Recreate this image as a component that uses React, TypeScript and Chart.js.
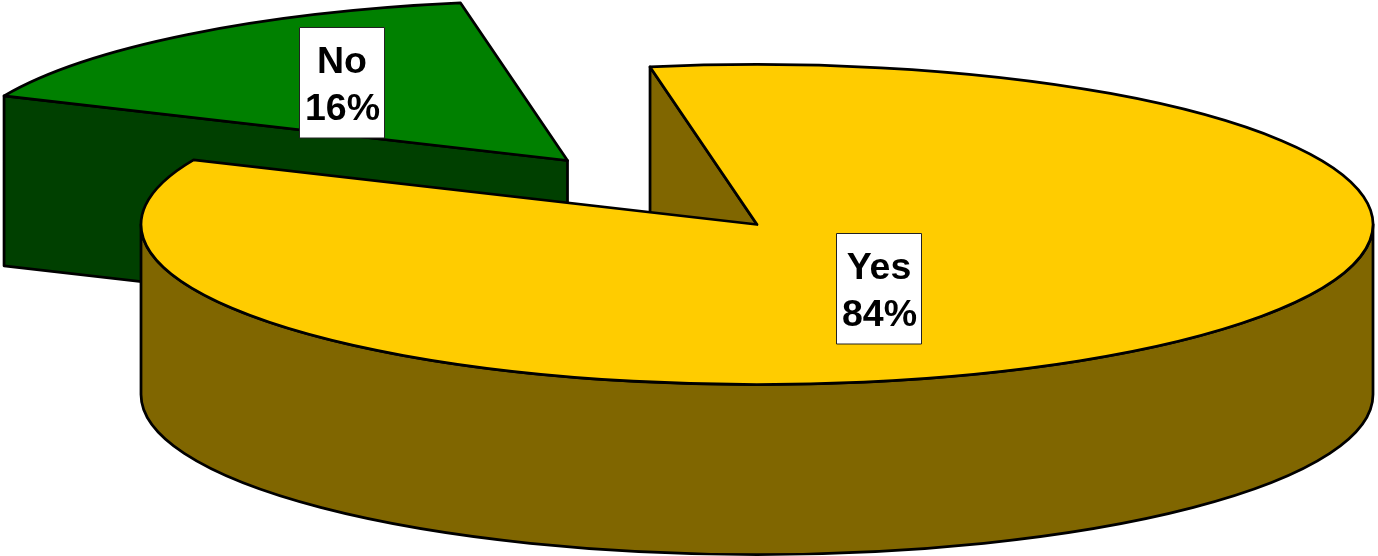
import { useEffect, useRef } from "react";
import { Chart, registerables } from "chart.js";

Chart.register(...registerables);

const categories = ["Yes", "No"];
const values = [84.4, 15.6];
const topColors = ["#FFCC00", "#008000"];
const wallColors = ["#806600", "#004000"];
// explode shift of each slice from the pie centre (px), and its label box
const sliceShiftX = [0, -189.5];
const sliceShiftY = [0, -64];
const labelBoxX = [836.5, 299.5];
const labelBoxY = [233.5, 27.5];

const CENTER_Y = 224.5;
const RADIUS = 616;
const TILT = 160 / 616;
const DEPTH = 170;
const LINE = 2.75;
const BOX_W = 85;
const BOX_H = 110.5;

const pie3d = {
  id: "pie3d",
  beforeDatasetsDraw(chart: any) {
    const ctx: CanvasRenderingContext2D = chart.ctx;
    const arcs = chart.getDatasetMeta(0).data;
    const order = arcs.map((_: any, i: number) => i).reverse();
    ctx.save();
    ctx.lineWidth = LINE;
    ctx.strokeStyle = "#000";
    ctx.lineJoin = "round";
    for (const i of order) {
      const arc = arcs[i];
      const { startAngle: a0, endAngle: a1, outerRadius: r } = arc;
      const cx = arc.x + sliceShiftX[i];
      const cy = CENTER_Y + sliceShiftY[i];
      const ry = r * TILT;
      const rimX = cx + r * Math.cos(a0);
      const rimY = cy + ry * Math.sin(a0);

      ctx.fillStyle = wallColors[i];
      // wall along the slice's starting edge
      ctx.beginPath();
      ctx.moveTo(rimX, rimY);
      ctx.lineTo(cx, cy);
      ctx.lineTo(cx, cy + DEPTH);
      ctx.lineTo(rimX, rimY + DEPTH);
      ctx.closePath();
      ctx.fill();
      ctx.stroke();

      // outer wall, front half of the rim only
      const from = Math.max(a0, 0);
      const to = Math.min(a1, Math.PI);
      if (from < to) {
        ctx.beginPath();
        ctx.ellipse(cx, cy, r, ry, 0, from, to);
        ctx.ellipse(cx, cy + DEPTH, r, ry, 0, to, from, true);
        ctx.closePath();
        ctx.fill();
        ctx.stroke();
      }

      // top face: the library's own arc, flattened
      ctx.save();
      ctx.translate(cx, cy);
      ctx.scale(1, TILT);
      ctx.translate(-arc.x, -arc.y);
      arc.draw(ctx);
      ctx.restore();
      ctx.beginPath();
      ctx.moveTo(cx, cy);
      ctx.ellipse(cx, cy, r, ry, 0, a0, a1);
      ctx.closePath();
      ctx.stroke();
    }

    // labels
    const total = values.reduce((s, v) => s + v, 0);
    ctx.font = 'bold 37.5px "Liberation Sans", Arial, sans-serif';
    ctx.textAlign = "center";
    ctx.textBaseline = "alphabetic";
    categories.forEach((name, i) => {
      const x = labelBoxX[i];
      const y = labelBoxY[i];
      ctx.fillStyle = "#fff";
      ctx.fillRect(x, y, BOX_W, BOX_H);
      ctx.lineWidth = 1;
      ctx.strokeStyle = "#222";
      ctx.strokeRect(x, y, BOX_W, BOX_H);
      ctx.fillStyle = "#000";
      ctx.fillText(name, x + BOX_W / 2, y + 45);
      ctx.fillText(`${Math.round((values[i] / total) * 100)}%`, x + BOX_W / 2 + 0.5, y + 92);
    });
    ctx.restore();
    return false;
  },
};

export default function App() {
  const ref = useRef<HTMLCanvasElement>(null);
  useEffect(() => {
    document.body.style.margin = "0";
    const chart = new Chart(ref.current!, {
      type: "pie",
      data: {
        labels: categories,
        datasets: [
          {
            data: values,
            backgroundColor: topColors,
            borderWidth: 0,
            radius: RADIUS,
            clip: false,
          } as any,
        ],
      },
      options: {
        responsive: false,
        animation: false,
        events: [],
        rotation: -10,
        layout: { padding: { left: 136 } },
        plugins: { legend: { display: false }, tooltip: { enabled: false } },
      },
      plugins: [pie3d],
    });
    return () => chart.destroy();
  }, []);
  return <canvas ref={ref} width={1378} height={556} style={{ display: "block" }} />;
}
